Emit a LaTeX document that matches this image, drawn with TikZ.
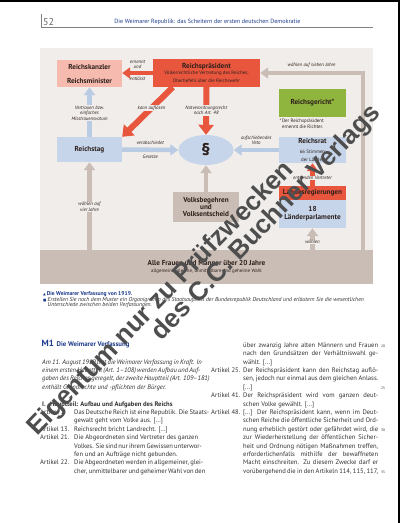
\documentclass[tikz,border=0pt]{standalone}
\usepackage{fontspec}
\setmainfont{PT Sans}
\newfontfamily\symbfont{DejaVu Sans}
\newfontfamily\stampfont{Liberation Sans}
\usetikzlibrary{arrows.meta,positioning,shapes.geometric}
\definecolor{paper}{RGB}{240,237,234}
\definecolor{taupe}{RGB}{201,189,181}
\definecolor{rose}{RGB}{246,186,175}
\definecolor{signal}{RGB}{233,86,62}
\definecolor{pale}{RGB}{198,213,234}
\definecolor{paleflow}{RGB}{186,203,228}
\definecolor{moss}{RGB}{143,181,62}
\definecolor{ink}{RGB}{45,32,28}
\definecolor{royal}{RGB}{30,60,140}
\definecolor{bodyink}{RGB}{50,50,50}
\definecolor{stamp}{RGB}{78,78,78}
\newcommand\boxfont{\fontsize{7.2}{8}\selectfont\bfseries}
\newcommand\subfont{\fontsize{4.9}{5.7}\selectfont\mdseries}
\newcommand\lblfont{\fontsize{4.9}{5.5}\selectfont\itshape}
\newcommand\bodyfont{\fontsize{6.6}{8.4}\selectfont}
% one line of the source text, on the 8.4pt grid
\newcommand\bodyrow[5]{\node[bodytext] (#1) at (#2,{347.3+8.4*#3}) {\makebox[#4pt][s]{#5}};}
\newcommand\bodyend[4]{\node[bodytext] (#1) at (#2,{347.3+8.4*#3}) {#4};}
\tikzset{
  organ/.style={rectangle,align=center,inner sep=0pt,text=ink,font=\boxfont},
  redbox/.style={organ,fill=signal},
  rosebox/.style={organ,fill=rose},
  bluebox/.style={organ,fill=pale},
  mossbox/.style={organ,fill=moss},
  taupebox/.style={organ,fill=taupe},
  redflow/.style={-{Triangle[width=11pt,length=8pt]},line width=4.5pt,draw=signal},
  boldflow/.style={-{Triangle[width=15pt,length=10pt]},line width=6pt,draw=signal},
  blueflow/.style={-{Triangle[width=11pt,length=8pt]},line width=4.5pt,draw=paleflow},
  grayflow/.style={-{Triangle[width=11pt,length=8pt]},line width=4.5pt,draw=taupe},
  note/.style={font=\lblfont,align=center,text=ink,inner sep=0.6pt},
  masked/.style={note,fill=paper},
  bodytext/.style={anchor=base west,inner sep=0pt,font=\bodyfont,text=bodyink}
}
\begin{document}
\begin{tikzpicture}[x=1pt,y=-1pt]
  \useasboundingbox (0,0) rectangle (400,523);
  \fill[white] (0,0) rectangle (400,523);
  \fill[black] (0,0) rectangle (400,1.8);
  \fill[black] (398.3,0) rectangle (400,523);

  % running head
  \draw[gray,line width=0.5pt] (41,14) -- (41,27) -- (373,27);
  \node[anchor=base west,inner sep=0pt,text=gray!80!black,font=\fontsize{10}{10}\selectfont] (pageno) at (43,25) {52};
  \node[anchor=base,inner sep=0pt,text=royal,font=\fontsize{6.1}{7}\selectfont] (runhead) at (207.5,23) {Die Weimarer Republik: das Scheitern der ersten deutschen Demokratie};

  % diagram
  \fill[paper] (40,48) rectangle (373,284);
  \node[rosebox,minimum width=65pt,minimum height=27pt] (kanzler) at (89.5,73.5) {Reichskanzler\\[6pt]Reichsminister};
  \node[redbox,minimum width=107pt,minimum height=28pt] (praes) at (206.5,73) {Reichspräsident\\[-1.5pt]\subfont Völkerrechtliche Vertretung des Reiches;\\\subfont Oberbefehl über die Reichswehr};
  \node[mossbox,minimum width=67pt,minimum height=28pt] (gericht) at (312.5,103) {Reichsgericht*};
  \node[anchor=north west,align=left,inner sep=0.5pt,text=ink,font=\subfont] (gerichtnote) at ([yshift=-1.5pt]gericht.south west) {*\,Der Reichspräsident\\\phantom{*\,}ernennt die Richter.};
  \node[bluebox,minimum width=65pt,minimum height=25pt] (tag) at (89.5,149.5) {Reichstag};
  \node[ellipse,fill=pale,minimum width=55pt,minimum height=30pt,inner sep=0pt,text=ink,font=\fontsize{17}{17}\selectfont\bfseries] (para) at (206,150) {§};
  \node[bluebox,minimum width=67pt,minimum height=26pt] (rat) at (312.5,150) {Reichsrat\\[2pt]\subfont 66 Stimmen\\\subfont der Länder};
  \node[redbox,minimum width=67pt,minimum height=14pt] (landreg) at (312.5,193) {Landesregierungen};
  \node[bluebox,minimum width=67pt,minimum height=28pt] (landparl) at (312.5,214) {18\\Länderparlamente};
  \node[taupebox,minimum width=66pt,minimum height=30pt] (volk) at (206,207) {Volksbegehren\\[-1pt]und\\[-1pt]Volksentscheid};
  \node[taupebox,minimum width=333pt,minimum height=34pt] (waehler) at (206.5,267) {Alle Frauen und Männer über 20 Jahre\\[-1pt]\subfont allgemeine, gleiche, unmittelbare und geheime Wahl};
  \coordinate (siebenjahre) at (363,100);

  \draw[redflow] (praes.west) -- node[note,above=1.5pt] (lblernennt) {ernennt\\und} node[note,below=1.5pt] (lblentl) {entlässt} (praes.west -| kanzler.east);
  \draw[boldflow] ([xshift=20pt]praes.south west) -- node[masked,pos=0.42] (lblaufl) {kann auflösen} (tag.north east);
  \draw[boldflow] (praes.south) -- node[masked,pos=0.49] (lblnot) {Notverordnungsrecht\\nach Art. 48} (para.north);
  \draw[blueflow] (tag.north) -- node[masked,pos=0.48] (lblvertr) {Vertrauen bzw.\\einfaches\\Misstrauensvotum} (kanzler.south);
  \draw[blueflow] (tag.east) -- node[note,above=2pt] (lblverab) {verabschiedet} node[note,below=2pt] (lblges) {Gesetze} (para.west);
  \draw[blueflow] (rat.west) -- node[note,above=2.5pt] (lblveto) {aufschiebendes\\Veto} (para.east);
  \draw[redflow] (landreg.north) -- node[masked,pos=0.35] (lblents) {entsenden Vertreter} (rat.south);
  \draw[grayflow] (waehler.north -| landparl.south) -- node[masked,pos=0.36] (lblwland) {wählen} (landparl.south);
  \draw[grayflow] (waehler.north -| tag.south) -- node[masked,pos=0.49] (lblwtag) {wählen auf\\vier Jahre} (tag.south);
  \draw[grayflow] (volk.north) -- (para.south);
  \draw[grayflow] (waehler.north -| siebenjahre) |- node[note,pos=0.75,above=2.5pt] (lblwpraes) {wählen auf sieben Jahre} (praes.east);

  % caption
  \node[anchor=base west,inner sep=0pt,text=royal,font=\fontsize{5.6}{6}\selectfont\bfseries] (capa) at (43,295) {{\symbfont\fontsize{3.5}{4}\selectfont ▲}\,Die Weimarer Verfassung von 1919.};
  \node[anchor=base west,inner sep=0pt,text=royal,font=\symbfont\fontsize{3.5}{4}\selectfont] (capbullet) at (43,301) {■};
  \node[anchor=base west,inner sep=0pt,text=bodyink,font=\fontsize{5.75}{6}\selectfont\itshape] (capb) at (47.5,301) {Erstellen Sie nach dem Muster ein Organigramm des Staatsaufbaus der Bundesrepublik Deutschland und erläutern Sie die wesentlichen};
  \node[anchor=base west,inner sep=0pt,text=bodyink,font=\fontsize{5.75}{6}\selectfont\itshape] (capc) at (47.5,306.5) {Unterschiede zwischen beiden Verfassungen.};

  % source text
  \node[anchor=base west,inner sep=0pt,text=royal,font=\fontsize{9}{9}\selectfont\bfseries] (mone) at (41.5,346.5) {M1};
  \node[anchor=base west,inner sep=0pt,text=royal,font=\fontsize{6.8}{7}\selectfont\bfseries] (monetitle) at (56.5,346.5) {Die Weimarer Verfassung};
  \bodyrow{introa}{42}{2}{158}{\itshape Am 11. August 1919 trat die Weimarer Verfassung in Kraft. In}
  \bodyrow{introb}{42}{3}{158}{\itshape einem ersten Hauptteil (Art. 1–108) werden Aufbau und Auf-}
  \bodyrow{introc}{42}{4}{158}{\itshape gaben des Reiches geregelt, der zweite Hauptteil (Art. 109–181)}
  \bodyend{introd}{42}{5}{\itshape enthält Grundrechte und -pflichten der Bürger.}
  \bodyend{partno}{42}{7}{\bfseries I.}
  \bodyend{parttitle}{50}{7}{\bfseries Hauptteil: Aufbau und Aufgaben des Reichs}
  \bodyend{arta}{40}{8}{Artikel 1.}
  \bodyrow{artatxa}{74}{8}{124}{Das Deutsche Reich ist eine Republik. Die Staats-}
  \bodyend{artatxb}{74}{9}{gewalt geht vom Volke aus. [...]}
  \bodyend{artb}{40}{10}{Artikel 13.}
  \bodyend{artbtx}{74}{10}{Reichsrecht bricht Landrecht. [...]}
  \bodyend{artc}{40}{11}{Artikel 21.}
  \bodyrow{artctxa}{74}{11}{124}{Die Abgeordneten sind Vertreter des ganzen}
  \bodyrow{artctxb}{74}{12}{124}{Volkes. Sie sind nur ihrem Gewissen unterwor-}
  \bodyend{artctxc}{74}{13}{fen und an Aufträge nicht gebunden.}
  \bodyend{artd}{40}{14}{Artikel 22.}
  \bodyrow{artdtxa}{74}{14}{124}{Die Abgeordneten werden in allgemeiner, glei-}
  \bodyrow{artdtxb}{74}{15}{124}{cher, unmittelbarer und geheimer Wahl von den}
  \bodyrow{artdtxc}{243}{0}{135}{über zwanzig Jahre alten Männern und Frauen}
  \bodyrow{artdtxd}{243}{1}{135}{nach den Grundsätzen der Verhältniswahl ge-}
  \bodyend{artdtxe}{243}{2}{wählt. [...]}
  \bodyend{arte}{211}{3}{Artikel 25.}
  \bodyrow{artetxa}{243}{3}{135}{Der Reichspräsident kann den Reichstag auflö-}
  \bodyrow{artetxb}{243}{4}{135}{sen, jedoch nur einmal aus dem gleichen Anlass.}
  \bodyend{artetxc}{243}{5}{[...]}
  \bodyend{artf}{211}{6}{Artikel 41.}
  \bodyrow{artftxa}{243}{6}{135}{Der Reichspräsident wird vom ganzen deut-}
  \bodyend{artftxb}{243}{7}{schen Volke gewählt. [...]}
  \bodyend{artg}{211}{8}{Artikel 48.}
  \bodyrow{artgtxa}{243}{8}{135}{[...] Der Reichspräsident kann, wenn im Deut-}
  \bodyrow{artgtxb}{243}{9}{135}{schen Reiche die öffentliche Sicherheit und Ord-}
  \bodyrow{artgtxc}{243}{10}{135}{nung erheblich gestört oder gefährdet wird, die}
  \bodyrow{artgtxd}{243}{11}{135}{zur Wiederherstellung der öffentlichen Sicher-}
  \bodyrow{artgtxe}{243}{12}{135}{heit und Ordnung nötigen Maßnahmen treffen,}
  \bodyrow{artgtxf}{243}{13}{135}{erforderlichenfalls mithilfe der bewaffneten}
  \bodyrow{artgtxg}{243}{14}{135}{Macht einschreiten. Zu diesem Zwecke darf er}
  \bodyrow{artgtxh}{243}{15}{135}{vorübergehend die in den Artikeln 114, 115, 117,}
  \node[bodytext,font=\fontsize{3.6}{4}\selectfont] (lnone) at (381,347.3) {20};
  \node[bodytext,font=\fontsize{3.6}{4}\selectfont] (lntwo) at (381,389.3) {25};
  \node[bodytext,font=\fontsize{3.6}{4}\selectfont] (lnthree) at (381,431.3) {30};
  \node[bodytext,font=\fontsize{3.6}{4}\selectfont] (lnfour) at (381,473.3) {35};

  % watermark
  \node[rotate=46,inner sep=0pt,text=stamp,font=\stampfont\bfseries\fontsize{26}{26}\selectfont] (stampa) at (161,299) {Eigentum nur zu Prüfzwecken};
  \node[rotate=46,inner sep=0pt,text=stamp,font=\stampfont\bfseries\fontsize{26}{26}\selectfont] (stampb) at (267,223) {des C.C. Buchner Verlags};
\end{tikzpicture}
\end{document}
